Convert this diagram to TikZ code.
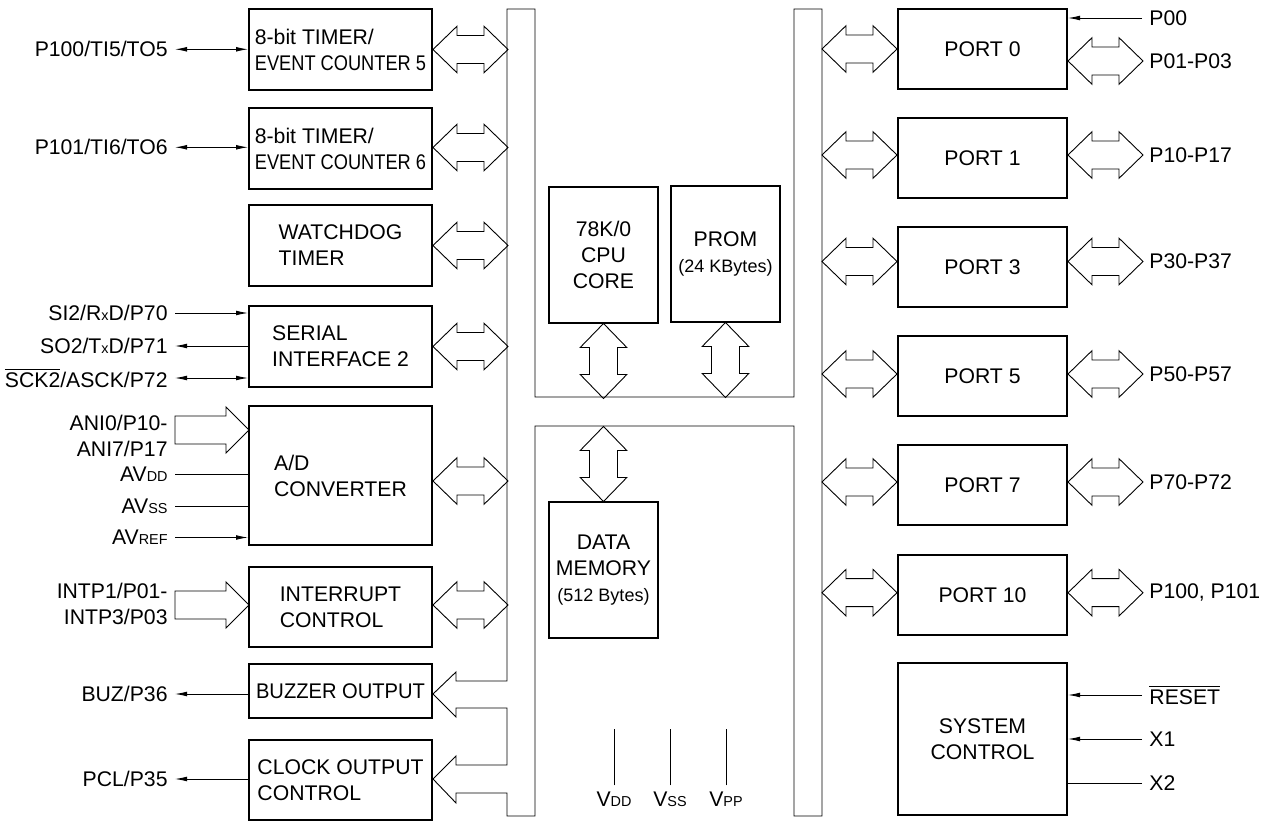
\documentclass[tikz,border=0pt]{standalone}
\usepackage{fontspec}
\setmainfont{Liberation Sans}
\usepackage{graphicx}
\usetikzlibrary{arrows.meta}

\newcommand{\smtxt}[1]{{\fontsize{7.2}{8}\selectfont #1}}

\tikzset{
  dbl/.pic={\draw (-37.5,0) -- (-13.5,-23.3) -- (-13.5,-14) -- (13.5,-14) -- (13.5,-23.3) -- (37.5,0)
    -- (13.5,23.3) -- (13.5,14) -- (-13.5,14) -- (-13.5,23.3) -- cycle;},
  sgl/.pic={\draw (-37,-14) -- (14,-14) -- (14,-23) -- (37,0) -- (14,23) -- (14,14) -- (-37,14) -- cycle;}
}

\begin{document}
\begin{tikzpicture}[x=0.5pt, y=-0.5pt, line width=0.45pt,
  font=\fontsize{10.6}{13}\selectfont, >={Latex[length=6pt,width=2.4pt]}]
\tikzstyle{blk}=[draw, line width=1pt, inner sep=0pt]
\tikzstyle{lblk}=[blk, minimum width=91.5pt, minimum height=40.5pt, align=left]
\tikzstyle{port}=[blk, minimum width=84.5pt, minimum height=40pt, align=center]
\tikzstyle{core}=[blk, minimum width=54.5pt, minimum height=68pt, align=center]
\tikzstyle{pinl}=[anchor=east, inner sep=3.5pt]
\tikzstyle{pinr}=[anchor=west, inner sep=3.5pt]

\useasboundingbox (0,0) rectangle (1270,822);

% left column
\draw (340.5,49.5) node[lblk] (tmr5) {8-bit TIMER/\\\scalebox{0.86}[1]{EVENT COUNTER 5}};
\draw (340.5,148.5) node[lblk] (tmr6) {8-bit TIMER/\\\scalebox{0.86}[1]{EVENT COUNTER 6}};
\draw (340.5,245.5) node[lblk] (wdt) {WATCHDOG\\TIMER};
\draw (340.5,346.5) node[lblk] (sio) {SERIAL\\INTERFACE 2};
\draw (340.5,475.5) node[lblk, minimum height=69.5pt] (adc) {A/D\\CONVERTER};
\draw (340.5,607) node[lblk, minimum height=40pt] (intc) {INTERRUPT\\CONTROL};
\draw (340.5,691) node[lblk, minimum height=27pt] (buz) {\scalebox{0.95}[1]{BUZZER OUTPUT}};
\draw (340.5,780) node[lblk, minimum height=40pt] (clk) {CLOCK OUTPUT\\CONTROL};

% middle
\draw (603.5,255) node[core] (cpu) {78K/0\\CPU\\CORE};
\draw (725.5,254) node[core] (prom) {PROM\\{\fontsize{9}{11}\selectfont(24 KBytes)}};
\draw (603.5,570) node[core] (dmem) {DATA\\MEMORY\\{\fontsize{9}{11}\selectfont(512 Bytes)}};

% ports
\draw (982.5,49) node[port] (port0) {PORT 0};
\draw (982.5,158.5) node[port] (port1) {PORT 1};
\draw (982.5,267.5) node[port] (port3) {PORT 3};
\draw (982.5,376.5) node[port] (port5) {PORT 5};
\draw (982.5,485.5) node[port] (port7) {PORT 7};
\draw (982.5,595) node[port] (port10) {PORT 10};
\draw (982.5,739.5) node[port, minimum height=76pt] (sysc) {SYSTEM\\CONTROL};

% left pins
\draw (175,49.3) node[pinl] (p100) {P100/TI5/TO5};
\draw (175,147.3) node[pinl] (p101) {P101/TI6/TO6};
\draw (175,313) node[pinl] (si2) {SI2/R\smtxt{x}D/P70};
\draw (175,346) node[pinl] (so2) {SO2/T\smtxt{x}D/P71};
\draw (175,378) node[pinl] (sck2) {$\overline{\mbox{SCK2}}$/ASCK/P72};
\draw (175,436) node[pinl, align=right] (ani) {ANI0/P10-\\ANI7/P17};
\draw (175,474) node[pinl] (avdd) {AV\smtxt{DD}};
\draw (175,506) node[pinl] (avss) {AV\smtxt{SS}};
\draw (175,537.5) node[pinl] (avref) {AV\smtxt{REF}};
\draw (175,604) node[pinl, align=right] (intp) {INTP1/P01-\\INTP3/P03};
\draw (175,694) node[pinl] (buzp) {BUZ/P36};
\draw (175,779) node[pinl] (pcl) {PCL/P35};

\draw[<->] (p100.east) -- (p100.east -| tmr5.west);
\draw[<->] (p101.east) -- (p101.east -| tmr6.west);
\draw[->] (si2.east) -- (si2.east -| sio.west);
\draw[<-] (so2.east) -- (so2.east -| sio.west);
\draw[<->] (sck2.east) -- (sck2.east -| sio.west);
\draw (avdd.east) -- (avdd.east -| adc.west);
\draw (avss.east) -- (avss.east -| adc.west);
\draw[->] (avref.east) -- (avref.east -| adc.west);
\draw[<-] (buzp.east) -- (buzp.east -| buz.west);
\draw[<-] (pcl.east) -- (pcl.east -| clk.west);
\path (ani.east) ++(37,-6) pic {sgl};
\path (intp.east) ++(37,1) pic {sgl};

% right pins
\draw (1142,18) node[pinr] (p00) {P00};
\draw (1142,61) node[pinr] (p0x) {P01-P03};
\draw (1142,155) node[pinr] (p1x) {P10-P17};
\draw (1142,261.5) node[pinr] (p3x) {P30-P37};
\draw (1142,374) node[pinr] (p5x) {P50-P57};
\draw (1142,482) node[pinr] (p7x) {P70-P72};
\draw (1142,592.7) node[pinr] (p10x) {P100, P101};
\draw (1142,695) node[pinr] (reset) {$\overline{\mbox{RESET}}$};
\draw (1142,739) node[pinr] (x1) {X1};
\draw (1142,783) node[pinr] (x2) {X2};

\draw[->] (p00.west) -- (p00.west -| port0.east);
\draw[->] (reset.west) -- (reset.west -| sysc.east);
\draw[->] (x1.west) -- (x1.west -| sysc.east);
\draw (x2.west) -- (x2.west -| sysc.east);

% bus arrows, left side
\path (tmr5.east) ++(37.5,0) pic {dbl};
\path (tmr6.east) ++(37.5,-1) pic {dbl};
\path (wdt.east) ++(37.5,0) pic {dbl};
\path (sio.east) ++(37.5,0) pic {dbl};
\path (adc.east) ++(37.5,5.5) pic {dbl};
\path (intc.east) ++(37.5,-2) pic {dbl};

% bus arrows, right side
\path (port0.west) ++(-37.5,0) pic {dbl};
\path (port0.east) ++(37.5,12) pic {dbl};
\path (port1.west) ++(-37.5,-3.5) pic {dbl};
\path (port1.east) ++(37.5,-3.5) pic {dbl};
\path (port3.west) ++(-37.5,-6) pic {dbl};
\path (port3.east) ++(37.5,-6) pic {dbl};
\path (port5.west) ++(-37.5,-2.5) pic {dbl};
\path (port5.east) ++(37.5,-2.5) pic {dbl};
\path (port7.west) ++(-37.5,-3.5) pic {dbl};
\path (port7.east) ++(37.5,-3.5) pic {dbl};
\path (port10.west) ++(-37.5,-2.3) pic {dbl};
\path (port10.east) ++(37.5,-2.3) pic {dbl};

% bus arrows, middle
\path (cpu.south) ++(0,37) pic[rotate=90] {dbl};
\path (prom.south) ++(0,37) pic[rotate=90] {dbl};
\path (dmem.north) ++(0,-37) pic[rotate=90] {dbl};

% supply pins
\draw (614,807) node[anchor=base] (vdd) {V\smtxt{DD}};
\draw (670,807) node[anchor=base] (vss) {V\smtxt{SS}};
\draw (726,807) node[anchor=base] (vpp) {V\smtxt{PP}};
\draw (vdd.north) -- ++(0,-56);
\draw (vss.north) -- ++(0,-56);
\draw (vpp.north) -- ++(0,-56);

% internal bus
\draw (507,9) -- (535,9) -- (535,397) -- (794,397) -- (794,9) -- (822,9) -- (822,816)
  -- (794,816) -- (794,426) -- (535,426) -- (535,816) -- (507,816) -- (507,793)
  -- (456,793) -- (456,803) -- (433,779) -- (456,756) -- (456,765) -- (507,765)
  -- (507,708) -- (456,708) -- (456,717) -- (433,694) -- (456,672) -- (456,681)
  -- (507,681) -- cycle;
\end{tikzpicture}
\end{document}
